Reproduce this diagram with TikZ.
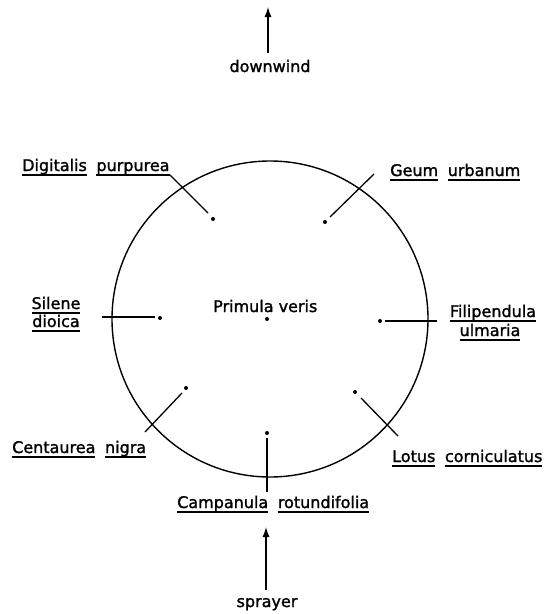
\documentclass[tikz,border=0pt]{standalone}
\usepackage{fontspec}
\setmainfont[FakeBold=1.5,AutoFakeBold=1.5]{DejaVu Sans}
\usetikzlibrary{arrows.meta}
\newcommand{\ulw}[1]{\leavevmode\setbox0\hbox{#1}\rlap{\copy0}\rule[-4.5pt]{\wd0}{1.2pt}}
\newcommand{\wsp}{\hspace{0.6em}}
\begin{document}
\begin{tikzpicture}[x=1pt,y=-1pt,
  lab/.style={inner sep=0pt, font=\fontsize{16}{19}\selectfont\bfseries},
  dotn/.style={circle, fill, inner sep=0pt, minimum size=4pt},
  tick/.style={line width=1.3pt},
  wind/.style={line width=1.3pt, -{Latex[length=10pt,width=7pt]}}]
\useasboundingbox (0,0) rectangle (545,614);

% plot circle
\node[draw, circle, minimum size=316pt, line width=1.4pt, inner sep=0pt] (plot) at (270,319) {};

% centre
\node[dotn] (pv) at (267,319) {};
\node[lab, anchor=base west] (pvl) at (213,312) {Primula veris};

% Digitalis purpurea
\node[dotn] (dpd) at (213,219) {};
\coordinate (dpa) at (208,213);
\coordinate (dpb) at (170,175);
\draw[tick] (dpa) -- (dpb);
\node[lab, anchor=base west] (dpl) at (22,171) {\ulw{Digitalis}\wsp\ulw{purpurea}};

% Geum urbanum
\node[dotn] (gud) at (325,222) {};
\coordinate (gua) at (330,217);
\coordinate (gub) at (374,174);
\draw[tick] (gua) -- (gub);
\node[lab, anchor=base west] (gul) at (390,176) {\ulw{Geum}\wsp\ulw{urbanum}};

% Silene dioica
\node[dotn] (sdd) at (160,318) {};
\coordinate (sda) at (155,317);
\coordinate (sdb) at (102,317);
\draw[tick] (sda) -- (sdb);
\node[lab, anchor=base] (sdl1) at (56,309) {\ulw{Silene}};
\node[lab, anchor=base] (sdl2) at (56,327) {\ulw{dioica}};

% Filipendula ulmaria
\node[dotn] (fud) at (380,321) {};
\coordinate (fua) at (385,321);
\coordinate (fub) at (437,321);
\draw[tick] (fua) -- (fub);
\node[lab, anchor=base] (ful1) at (493,317) {\ulw{Filipendula}};
\node[lab, anchor=base] (ful2) at (490,336) {\ulw{ulmaria}};

% Centaurea nigra
\node[dotn] (cnd) at (186,388) {};
\coordinate (cna) at (182,393);
\coordinate (cnb) at (145,432);
\draw[tick] (cna) -- (cnb);
\node[lab, anchor=base west] (cnl) at (12,453) {\ulw{Centaurea}\wsp\ulw{nigra}};

% Lotus corniculatus
\node[dotn] (lcd) at (355,392) {};
\coordinate (lca) at (361,398);
\coordinate (lcb) at (398,436);
\draw[tick] (lca) -- (lcb);
\node[lab, anchor=base west] (lcl) at (392,462) {\ulw{Lotus}\wsp\ulw{corniculatus}};

% Campanula rotundifolia
\node[dotn] (crd) at (267,433) {};
\coordinate (cra) at (267,438);
\coordinate (crb) at (267,492);
\draw[tick] (cra) -- (crb);
\node[lab, anchor=base west] (crl) at (177,508) {\ulw{Campanula}\wsp\ulw{rotundifolia}};

% wind arrows
\node[lab, anchor=base] (dw) at (270,72) {downwind};
\coordinate (dwtip) at (268,7);
\draw[wind, shorten <=7pt] (dw.north -| dwtip) -- (dwtip);

\node[lab, anchor=base] (sp) at (267,607) {sprayer};
\coordinate (sptip) at (266,527);
\draw[wind, shorten <=8pt] (sp.north -| sptip) -- (sptip);
\end{tikzpicture}
\end{document}
